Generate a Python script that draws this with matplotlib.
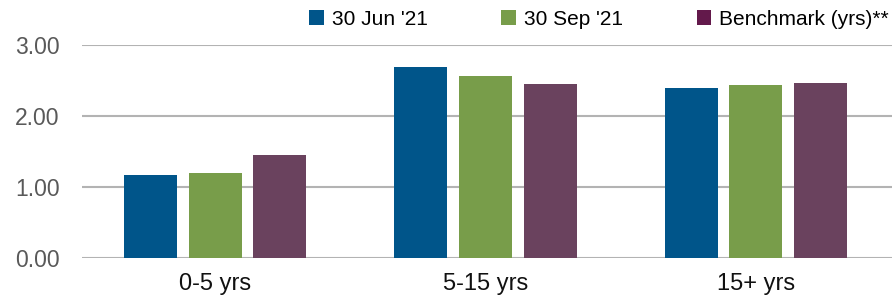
import numpy as np
import matplotlib.pyplot as plt
from matplotlib.patches import Patch

# Data
categories = ["0-5 yrs", "5-15 yrs", "15+ yrs"]
series_names = ["30 Jun '21", "30 Sep '21", "Benchmark (yrs)**"]
jun_21 = [1.17, 2.69, 2.39]
sep_21 = [1.20, 2.57, 2.44]
benchmark = [1.45, 2.45, 2.47]
y_ticks = [0.0, 1.0, 2.0, 3.0]

colors = ["#00558A", "#789D4A", "#6A425E"]
legend_colors = ["#00558A", "#789D4A", "#63194B"]

plt.rcParams['font.family'] = ['Liberation Sans', 'DejaVu Sans']

fig = plt.figure(figsize=(8.92, 2.98), dpi=100)
ax = fig.add_axes([82 / 892, 40 / 298, 810 / 892, 213 / 298])

x = np.arange(len(categories))
width = 0.196
offset = 0.24
for i, (vals, c) in enumerate(zip([jun_21, sep_21, benchmark], colors)):
    ax.bar(x + (i - 1) * offset, vals, width, color=c, zorder=3)

ax.set_xlim(-0.492, 2.503)
ax.set_ylim(0, 3)
ax.set_yticks(y_ticks)
ax.set_yticklabels([f"{v:.2f}" for v in y_ticks])
ax.set_xticks(x)
ax.set_xticklabels(categories)
ax.yaxis.grid(True, color="#B3B3B3", linewidth=1.5, zorder=0)
ax.set_axisbelow(True)
for s in ax.spines.values():
    s.set_visible(False)
ax.tick_params(axis="y", length=0, pad=16, labelsize=16.5, labelcolor="#595959")
ax.tick_params(axis="x", length=0, pad=11, labelsize=17, labelcolor="#111111")

# legend across the top
handles = [Patch(facecolor=c, edgecolor="none") for c in legend_colors]
fig.legend(handles, series_names, loc="upper right", bbox_to_anchor=(889 / 892, 1 - 10 / 298),
           ncol=3, frameon=False, fontsize=15, handlelength=0.7, handleheight=0.7,
           handletextpad=0.38, columnspacing=3.55, borderpad=0, borderaxespad=0)

fig.savefig("out.png", dpi=100)
